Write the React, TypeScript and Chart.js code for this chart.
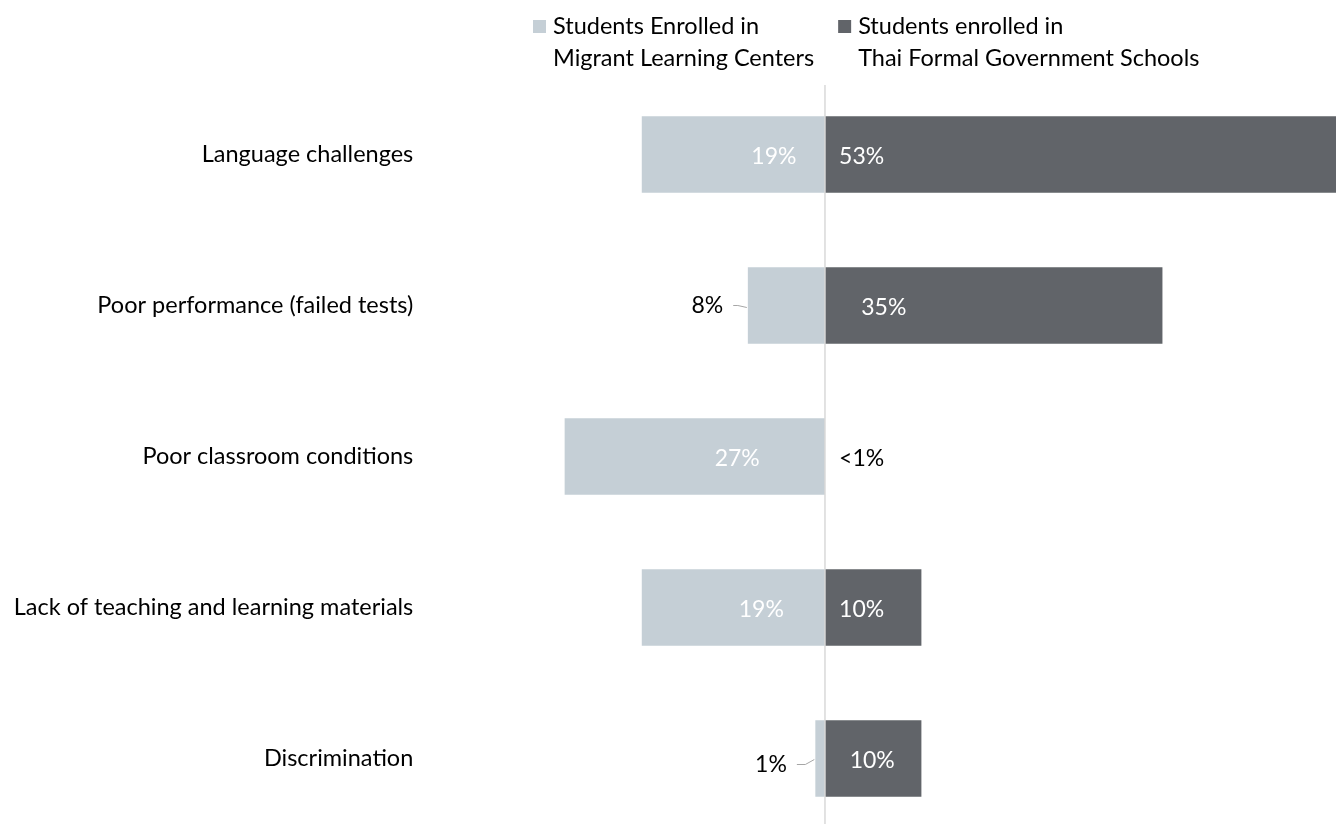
import React, { useEffect, useRef } from "react";
import { Chart, registerables } from "chart.js";
Chart.register(...registerables);

const categories = [
  "Language challenges",
  "Poor performance (failed tests)",
  "Poor classroom conditions",
  "Lack of teaching and learning materials",
  "Discrimination",
];
const migrantValues = [19, 8, 27, 19, 1];
const thaiValues = [53, 35, 0, 10, 10];
const migrantLabels = ["19%", "8%", "27%", "19%", "1%"];
const thaiLabels = ["53%", "35%", "<1%", "10%", "10%"];
const seriesNames = [
  ["Students Enrolled in", "Migrant Learning Centers"],
  ["Students enrolled in", "Thai Formal Government Schools"],
];
const xMin = -40;
const xMax = 53;

// label placement along the value axis (axis units)
const migrantLabelAt = [-5.3, -12.2, -9.1, -6.6, -5.6];
const thaiLabelAt = [3.8, 6.1, 3.8, 3.8, 4.9];
const migrantInside = [true, false, true, true, false];
const thaiInside = [true, true, false, true, true];
const outsideDy = [0, 0, 0, 0, 6];

const LIGHT = "#c5cfd6";
const DARK = "#616469";
const FONT = "Lato, 'Open Sans', sans-serif";
const TEXT_SIZE = 23.5;
const LABEL_SIZE = 23;

const overlayPlugin = {
  id: "overlay",
  afterDatasetsDraw(chart: any) {
    const ctx = chart.ctx;
    const x = chart.scales.x;
    const zero = x.getPixelForValue(0);
    ctx.save();
    // center line
    ctx.strokeStyle = "#d9d9d9";
    ctx.lineWidth = 1.5;
    ctx.beginPath();
    ctx.moveTo(zero, 85);
    ctx.lineTo(zero, chart.height);
    ctx.stroke();

    ctx.font = `${LABEL_SIZE}px ${FONT}`;
    ctx.textBaseline = "middle";
    ctx.textAlign = "center";
    const m0 = chart.getDatasetMeta(0);
    const m1 = chart.getDatasetMeta(1);
    m0.data.forEach((el: any, i: number) => {
      const px = x.getPixelForValue(migrantLabelAt[i]);
      if (migrantInside[i]) {
        ctx.fillStyle = "#ffffff";
        ctx.fillText(migrantLabels[i], px, el.y + 2);
      } else {
        const ty = el.y + outsideDy[i];
        ctx.fillStyle = "#000000";
        ctx.fillText(migrantLabels[i], px, ty);
        const w = ctx.measureText(migrantLabels[i]).width;
        const startX = px + w / 2 + 10;
        const barLeft = el.x;
        ctx.strokeStyle = "#a6a6a6";
        ctx.lineWidth = 1;
        ctx.beginPath();
        ctx.moveTo(startX, ty);
        const midX = Math.max(startX, barLeft - 10);
        ctx.lineTo(midX, ty);
        ctx.lineTo(barLeft - 1, el.y + (outsideDy[i] ? 1 : 2));
        ctx.stroke();
      }
    });
    m1.data.forEach((el: any, i: number) => {
      const px = x.getPixelForValue(thaiLabelAt[i]);
      ctx.fillStyle = thaiInside[i] ? "#ffffff" : "#000000";
      ctx.fillText(thaiLabels[i], px, el.y + 2);
    });
    ctx.restore();
  },
  afterDraw(chart: any) {
    const ctx = chart.ctx;
    ctx.save();
    ctx.font = `${TEXT_SIZE}px ${FONT}`;
    ctx.textBaseline = "alphabetic";
    ctx.textAlign = "left";
    const colors = [LIGHT, DARK];
    let cx = 533;
    seriesNames.forEach((lines, k) => {
      ctx.fillStyle = colors[k];
      ctx.fillRect(cx, 20, 13, 13);
      ctx.fillStyle = "#000000";
      let maxW = 0;
      lines.forEach((ln, j) => {
        ctx.fillText(ln, cx + 20, 34 + j * 31.5);
        maxW = Math.max(maxW, ctx.measureText(ln).width);
      });
      cx += 20 + maxW + 24;
    });
    ctx.restore();
  },
};

export default function App() {
  const ref = useRef<HTMLCanvasElement>(null);
  useEffect(() => {
    if (!ref.current) return;
    const chart = new Chart(ref.current, {
      type: "bar",
      data: {
        labels: categories,
        datasets: [
          {
            label: seriesNames[0].join(" "),
            data: migrantValues.map((v) => -v),
            backgroundColor: LIGHT,
            borderWidth: 0,
          },
          {
            label: seriesNames[1].join(" "),
            data: thaiValues,
            backgroundColor: DARK,
            borderWidth: 0,
          },
        ],
      },
      options: {
        indexAxis: "y",
        responsive: true,
        maintainAspectRatio: false,
        animation: false,
        layout: { padding: { top: 79, left: 0, right: 0, bottom: 0 } },
        datasets: { bar: { categoryPercentage: 0.507, barPercentage: 1 } },
        plugins: { legend: { display: false }, tooltip: { enabled: false } },
        scales: {
          x: { display: false, stacked: true, min: xMin, max: xMax },
          y: {
            stacked: true,
            grid: { display: false, drawTicks: false },
            border: { display: false },
            ticks: {
              padding: 26,
              color: "#000000",
              font: { family: FONT, size: TEXT_SIZE },
            },
            afterFit(scale: any) {
              scale.width = 439.3;
              scale.paddingTop = 0;
              scale.paddingBottom = 0;
            },
          },
        },
      },
      plugins: [overlayPlugin],
    } as any);
    return () => chart.destroy();
  }, []);
  return (
    <div
      style={{
        position: "fixed",
        top: 0,
        left: 0,
        width: 1336,
        height: 824,
        overflow: "hidden",
        background: "#fff",
      }}
    >
      <div style={{ position: "relative", width: 1336, height: 834 }}>
        <canvas ref={ref} />
      </div>
    </div>
  );
}
